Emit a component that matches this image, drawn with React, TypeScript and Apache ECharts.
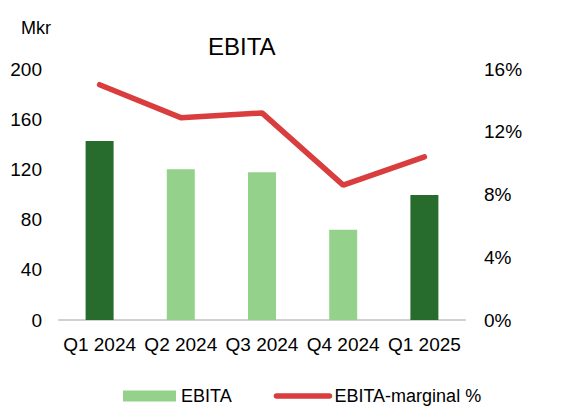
import React, { useEffect, useRef } from "react";
import * as echarts from "echarts";

const categories = ["Q1 2024", "Q2 2024", "Q3 2024", "Q4 2024", "Q1 2025"];
const ebita = [142.6, 120.1, 117.7, 72, 99.6];
const highlighted = [true, false, false, false, true];
const margin = [15.0, 12.9, 13.2, 8.6, 10.4];
const leftTicks = { min: 0, max: 200, interval: 40 };
const rightTicks = { min: 0, max: 16, interval: 4 };

const DARK = "#276c2c";
const LIGHT = "#94d18b";
const RED = "#d93d3d";
const FONT = "Liberation Sans, Arial, sans-serif";

export default function App() {
  const ref = useRef<HTMLDivElement>(null);
  useEffect(() => {
    if (!ref.current) return;
    const chart = echarts.init(ref.current, undefined, { renderer: "svg" });
    chart.setOption({
      animation: false,
      textStyle: { fontFamily: FONT, color: "#000" },
      title: {
        text: "EBITA",
        left: 203,
        top: 28,
        textStyle: { fontFamily: FONT, fontSize: 24, fontWeight: "normal", color: "#000", lineHeight: 26 },
      },
      graphic: [
        {
          type: "text",
          left: 21,
          top: 19,
          style: { text: "Mkr", fontFamily: FONT, fontSize: 18, fill: "#000" },
        },
      ],
      legend: {
        left: 123,
        top: 387,
        padding: 0,
        itemGap: 42,
        itemWidth: 53,
        itemHeight: 11,
        textStyle: { fontFamily: FONT, fontSize: 18, color: "#000" },
        data: [
          { name: "EBITA", icon: "rect" },
          {
            name: "EBITA-marginal %",
            itemStyle: { opacity: 0 },
            lineStyle: { width: 5.5, cap: "round", color: RED },
          },
        ],
      },
      grid: { left: 59, right: 106, top: 69, bottom: 88, containLabel: false },
      xAxis: {
        type: "category",
        data: categories,
        axisLine: { lineStyle: { color: "#d0d0d0", width: 2 } },
        axisTick: { show: false },
        axisLabel: { fontFamily: FONT, fontSize: 19, color: "#000", margin: 15, interval: 0 },
      },
      yAxis: [
        {
          type: "value",
          ...leftTicks,
          splitLine: { show: false },
          axisLine: { show: false },
          axisTick: { show: false },
          axisLabel: { fontFamily: FONT, fontSize: 19, color: "#000", margin: 17 },
        },
        {
          type: "value",
          ...rightTicks,
          position: "right",
          splitLine: { show: false },
          axisLine: { show: false },
          axisTick: { show: false },
          axisLabel: { fontFamily: FONT, fontSize: 19, color: "#000", margin: 19, formatter: "{value}%" },
        },
      ],
      series: [
        {
          name: "EBITA",
          type: "bar",
          barWidth: 28,
          itemStyle: { color: LIGHT },
          data: ebita.map((v, i) => ({
            value: v,
            itemStyle: { color: highlighted[i] ? DARK : LIGHT },
          })),
        },
        {
          name: "EBITA-marginal %",
          type: "line",
          yAxisIndex: 1,
          symbol: "none",
          lineStyle: { color: RED, width: 5.5, cap: "round" },
          itemStyle: { color: RED },
          data: margin,
        },
      ],
    });
    return () => chart.dispose();
  }, []);
  return <div ref={ref} style={{ width: 571, height: 408, position: "absolute", left: 0, top: 0 }} />;
}
